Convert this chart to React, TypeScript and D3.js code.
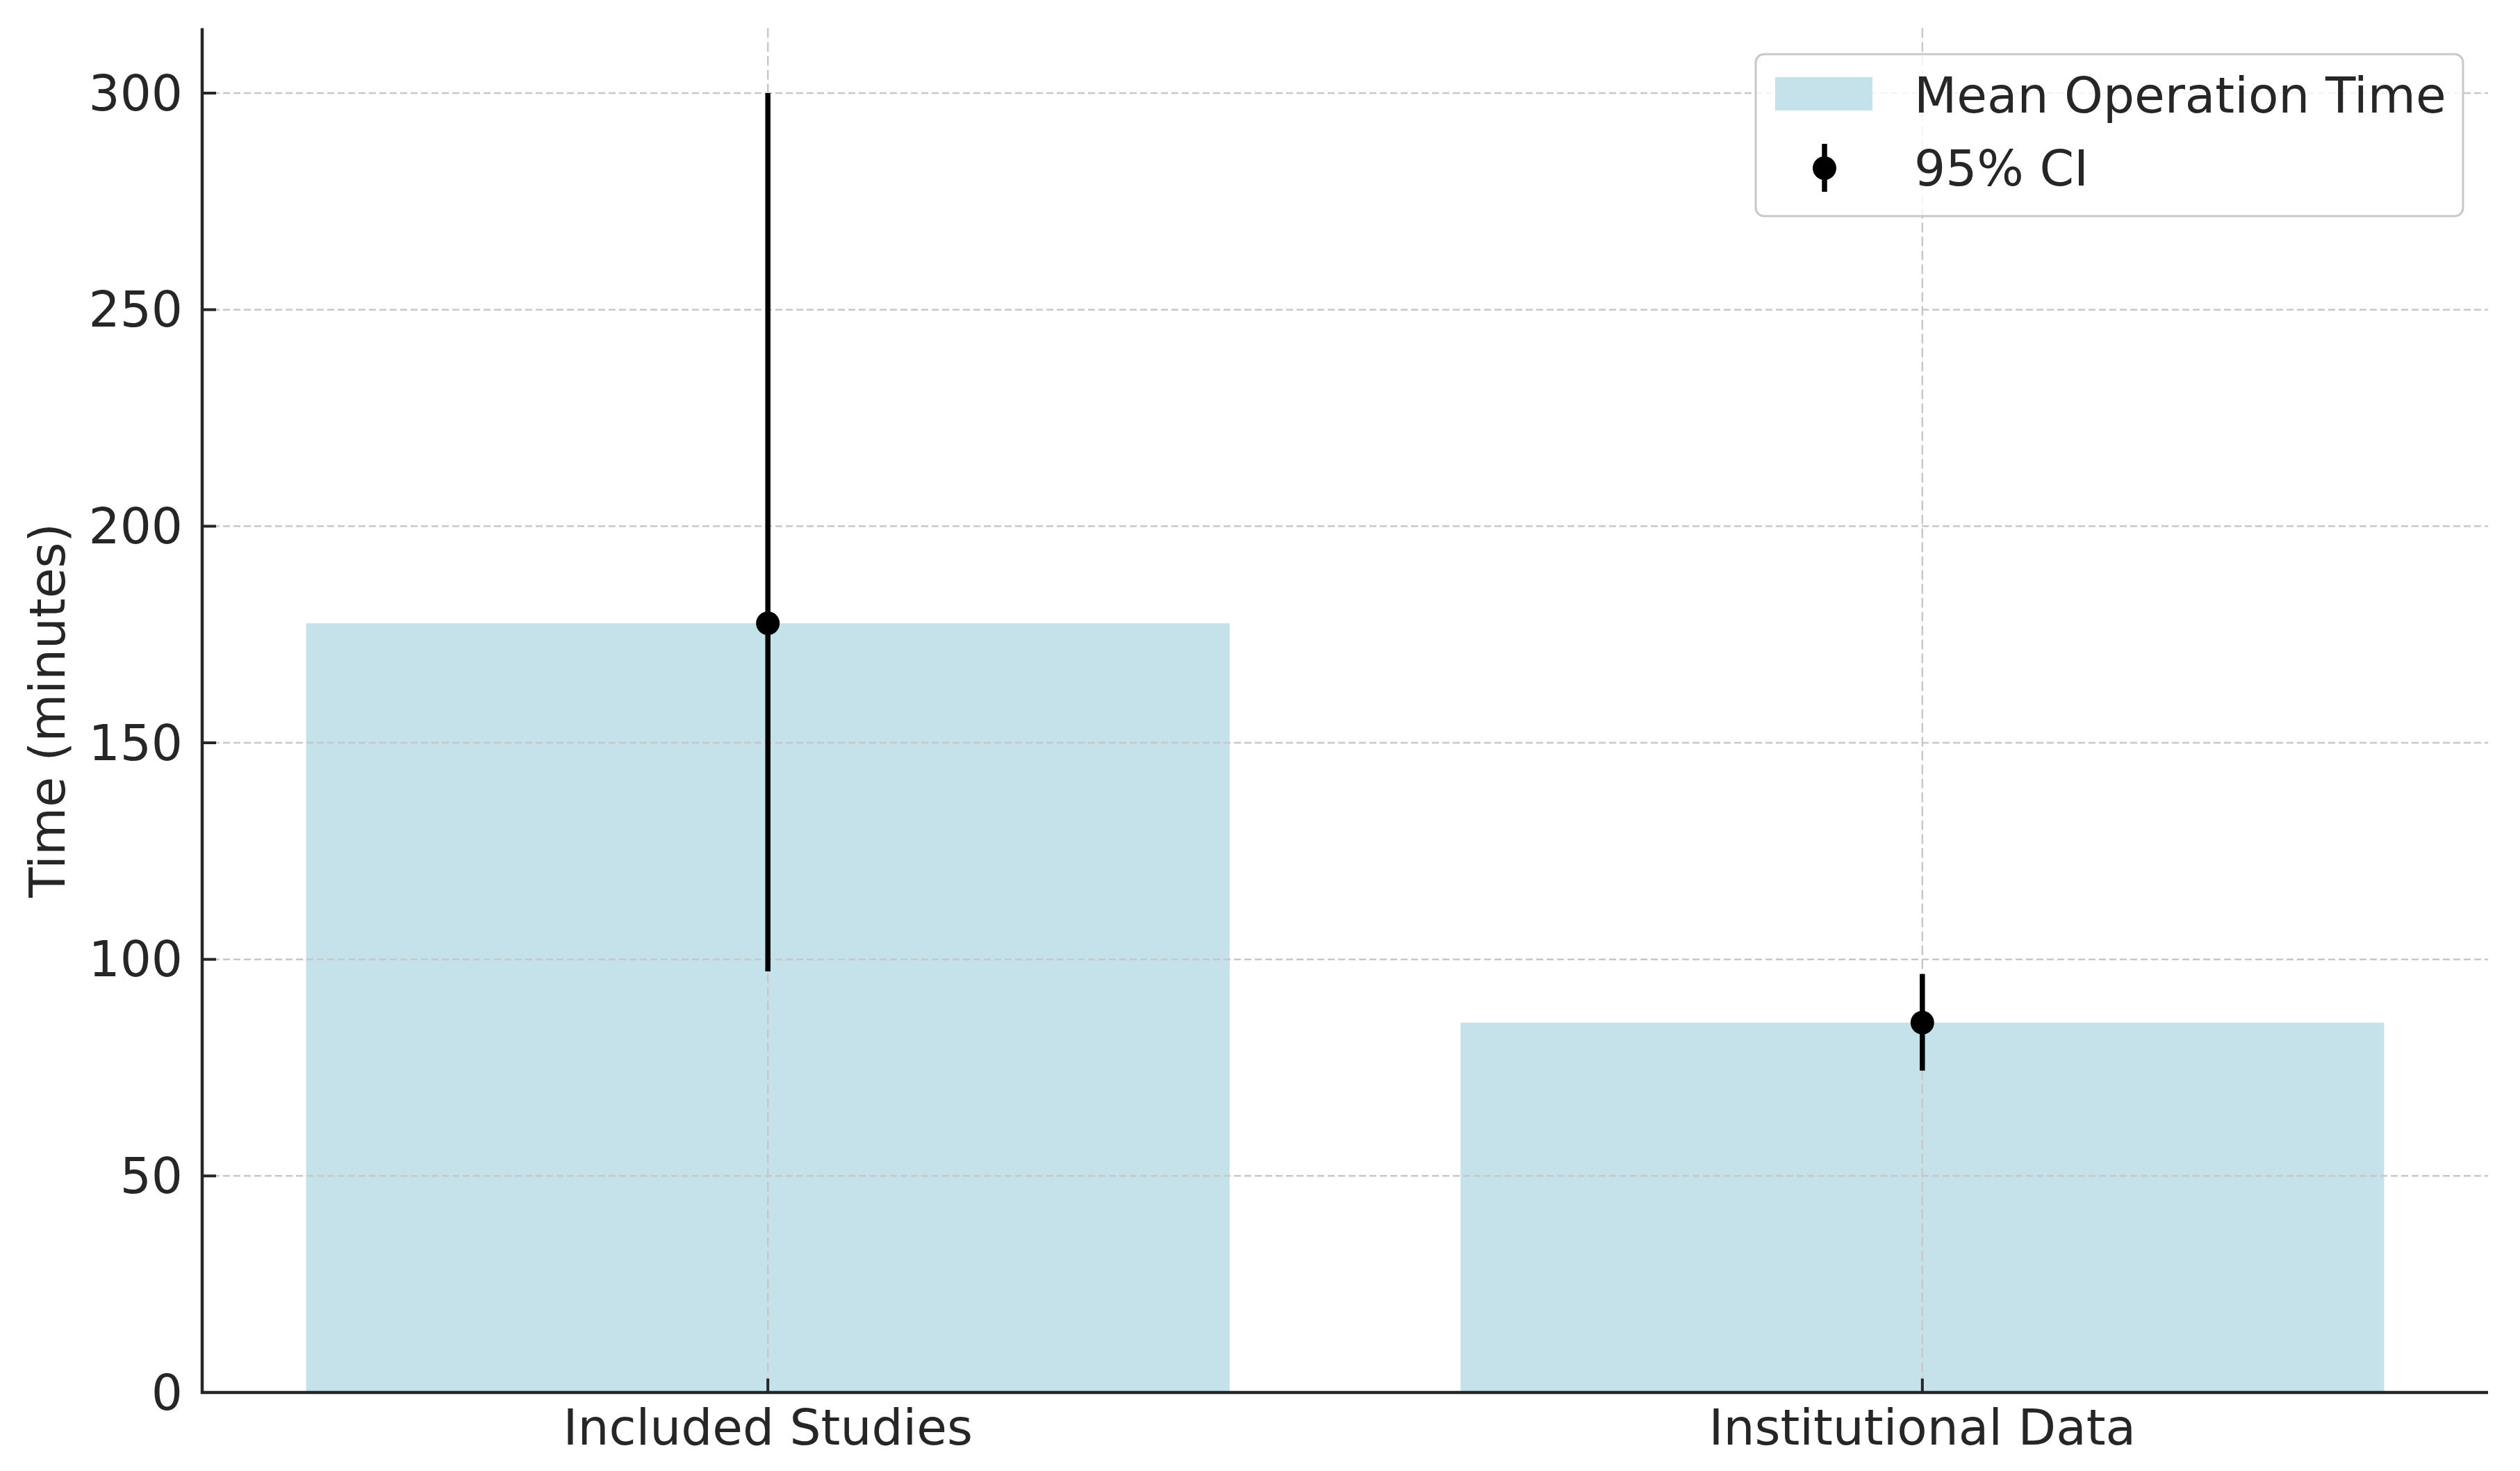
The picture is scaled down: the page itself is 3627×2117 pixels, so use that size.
import React, { useMemo } from 'react';
import * as d3 from 'd3';

const WIDTH = 3627;
const HEIGHT = 2117;
const PLOT = { left: 291, right: 3581, top: 40.5, bottom: 2004 };
const FONT = 'DejaVu Sans, sans-serif';
const TEXT_COLOR = '#262626';
const BAR_COLOR = '#c5e2eb';
const GRID_COLOR = '#c8c8c8';

const categories = ['Included Studies', 'Institutional Data'];
const meanTimes = [177.6, 85.4];
const ciLower = [97.2, 74.3];
const ciUpper = [300, 96.6];
const yTicks = [0, 50, 100, 150, 200, 250, 300];
const legendLabels = ['Mean Operation Time', '95% CI'];
const yLabel = 'Time (minutes)';

export default function App() {
  // categorical positions 0..n-1 on a linear scale, like matplotlib bar()
  const xScale = useMemo(
    () => d3.scaleLinear().domain([-0.49, categories.length - 1 + 0.49]).range([PLOT.left, PLOT.right]),
    []
  );
  const yScale = useMemo(() => d3.scaleLinear().domain([0, 315]).range([PLOT.bottom, PLOT.top]), []);
  const barHalf = 0.4;

  const grid = (
    <g>
      {yTicks.map((t) => (
        <line
          key={'gy' + t}
          x1={PLOT.left}
          x2={PLOT.right}
          y1={yScale(t)}
          y2={yScale(t)}
          stroke={GRID_COLOR}
          strokeWidth={2.5}
          strokeDasharray="10 5"
        />
      ))}
      {categories.map((c, i) => (
        <line
          key={'gx' + c}
          x1={xScale(i)}
          x2={xScale(i)}
          y1={PLOT.top}
          y2={PLOT.bottom}
          stroke={GRID_COLOR}
          strokeWidth={2.5}
          strokeDasharray="14 6"
        />
      ))}
    </g>
  );

  const bars = categories.map((c, i) => (
    <rect
      key={c}
      x={xScale(i - barHalf)}
      y={yScale(meanTimes[i])}
      width={xScale(i + barHalf) - xScale(i - barHalf)}
      height={yScale(0) - yScale(meanTimes[i])}
      fill={BAR_COLOR}
    />
  ));

  const errorBars = categories.map((c, i) => (
    <g key={'e' + c}>
      <line x1={xScale(i)} x2={xScale(i)} y1={yScale(ciLower[i])} y2={yScale(ciUpper[i])} stroke="#000" strokeWidth={7.5} />
      <circle cx={xScale(i)} cy={yScale(meanTimes[i])} r={17} fill="#000" />
    </g>
  ));

  const axes = (
    <g>
      <line x1={PLOT.left} x2={PLOT.left} y1={PLOT.top} y2={PLOT.bottom + 2} stroke={TEXT_COLOR} strokeWidth={4.5} />
      <line x1={PLOT.left - 2} x2={PLOT.right} y1={PLOT.bottom} y2={PLOT.bottom} stroke={TEXT_COLOR} strokeWidth={4.5} />
      {yTicks.map((t) => (
        <g key={'ty' + t}>
          <line x1={PLOT.left} x2={PLOT.left + 20} y1={yScale(t)} y2={yScale(t)} stroke={TEXT_COLOR} strokeWidth={4} />
          <text
            x={263}
            y={yScale(t)}
            textAnchor="end"
            dominantBaseline="central"
            fontSize={71}
            fontFamily={FONT}
            fill={TEXT_COLOR}
          >
            {t}
          </text>
        </g>
      ))}
      {categories.map((c, i) => (
        <g key={'tx' + c}>
          <line x1={xScale(i)} x2={xScale(i)} y1={PLOT.bottom} y2={PLOT.bottom - 20} stroke={TEXT_COLOR} strokeWidth={4} />
          <text x={xScale(i)} y={2079} textAnchor="middle" fontSize={71} fontFamily={FONT} fill={TEXT_COLOR}>
            {c}
          </text>
        </g>
      ))}
      <text
        transform={`translate(93, ${(PLOT.top + PLOT.bottom) / 2}) rotate(-90)`}
        textAnchor="middle"
        fontSize={71}
        fontFamily={FONT}
        fill={TEXT_COLOR}
      >
        {yLabel}
      </text>
    </g>
  );

  const legend = (
    <g>
      <rect x={2527} y={78} width={1018} height={233} rx={12} fill="#fff" fillOpacity={0.8} stroke={GRID_COLOR} strokeWidth={3} />
      <rect x={2555} y={111} width={140} height={48} fill={BAR_COLOR} />
      <text x={2755} y={162} fontSize={71} fontFamily={FONT} fill={TEXT_COLOR}>
        {legendLabels[0]}
      </text>
      <line x1={2626} x2={2626} y1={207} y2={276} stroke="#000" strokeWidth={7.5} />
      <circle cx={2626} cy={242} r={17} fill="#000" />
      <text x={2755} y={267} fontSize={71} fontFamily={FONT} fill={TEXT_COLOR}>
        {legendLabels[1]}
      </text>
    </g>
  );

  return (
    <svg
      width={WIDTH}
      height={HEIGHT}
      style={{ position: 'absolute', left: 0, top: 0, background: '#fff' }}
    >
      <rect width={WIDTH} height={HEIGHT} fill="#fff" />
      {bars}
      {grid}
      {errorBars}
      {axes}
      {legend}
    </svg>
  );
}
